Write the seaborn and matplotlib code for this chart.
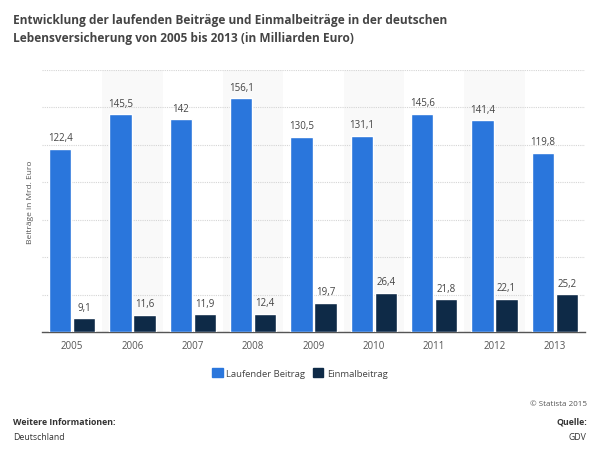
import pandas as pd
import matplotlib.pyplot as plt
import seaborn as sns

# Daten
years = ['2005', '2006', '2007', '2008', '2009', '2010', '2011', '2012', '2013']
laufend = [122.4, 145.5, 142, 156.1, 130.5, 131.1, 145.6, 141.4, 119.8]
einmal = [9.1, 11.6, 11.9, 12.4, 19.7, 26.4, 21.8, 22.1, 25.2]
series = ['Laufender Beitrag', 'Einmalbeitrag']
colors = ['#2a76dc', '#0e2a47']

df = pd.DataFrame({
    'Jahr': years * 2,
    'Wert': laufend + einmal,
    'Art': [series[0]] * len(years) + [series[1]] * len(years),
})

sns.set_style("white")
plt.rcParams['font.family'] = ['Open Sans', 'DejaVu Sans']

fig = plt.figure(figsize=(6, 4.52), dpi=100)
ax = fig.add_axes([0.07, 0.263, 0.905, 0.58])

# leicht graue Bänder hinter jeder zweiten Gruppe
for i in range(1, len(years), 2):
    ax.axvspan(i - 0.5, i + 0.5, color='#f9f9f9', zorder=0, lw=0)

sns.barplot(data=df, x='Jahr', y='Wert', hue='Art', palette=colors,
            width=0.8, gap=0.08, saturation=1, ax=ax, legend=False, zorder=3)

for cont in ax.containers:
    ax.bar_label(cont, labels=[f"{v:g}".replace('.', ',') for v in cont.datavalues],
                 padding=4, fontsize=7, color='#444444')

ax.set_ylim(0, 175)
ax.set_xlim(-0.5, len(years) - 0.5)
ax.set_yticks(range(0, 176, 25))
ax.set_yticklabels([])
ax.tick_params(axis='y', length=0)
ax.tick_params(axis='x', length=0, labelsize=7, colors='#555555', pad=6)
ax.yaxis.grid(True, color='#d5d5d5', linestyle=(0, (1, 1)), lw=0.8, zorder=1)
ax.set_axisbelow(True)
for s in ['top', 'right', 'left']:
    ax.spines[s].set_visible(False)
ax.spines['bottom'].set_color('#555555')
ax.spines['bottom'].set_linewidth(1)
ax.set_xlabel('')
ax.set_ylabel('Beiträge in Mrd. Euro', fontsize=6, color='#555555', labelpad=2)

# Legende
handles = [plt.Rectangle((0, 0), 1, 1, color=c) for c in colors]
fig.legend(handles, series, loc='center', bbox_to_anchor=(0.5, 0.172), ncol=2,
           frameon=False, fontsize=6.8, handlelength=1.1, handleheight=1.1,
           columnspacing=0.8, handletextpad=0.4, labelcolor='#444444')

# Titel
fig.text(0.022, 0.968, 'Entwicklung der laufenden Beiträge und Einmalbeiträge in der deutschen\n'
         'Lebensversicherung von 2005 bis 2013 (in Milliarden Euro)',
         fontsize=8.6, fontweight='bold', color='#444444', va='top', linespacing=1.5)

# Fußzeile
fig.text(0.978, 0.104, '© Statista 2015', fontsize=5.8, color='#555555', ha='right', va='center')
fig.text(0.022, 0.066, 'Weitere Informationen:', fontsize=6.3, fontweight='bold', color='#333333', va='center')
fig.text(0.022, 0.031, 'Deutschland', fontsize=6.3, color='#333333', va='center')
fig.text(0.978, 0.066, 'Quelle:', fontsize=6.3, fontweight='bold', color='#333333', ha='right', va='center')
fig.text(0.978, 0.031, 'GDV', fontsize=6.3, color='#333333', ha='right', va='center')

plt.savefig('out.png', dpi=100)
